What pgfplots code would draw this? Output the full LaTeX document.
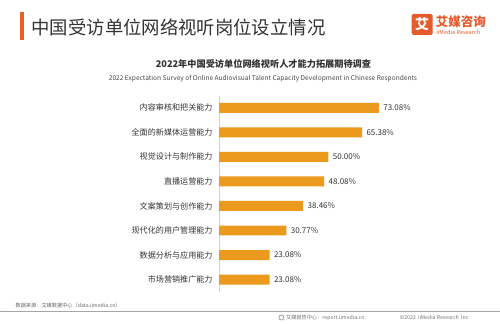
\documentclass[border=0pt]{standalone}
\usepackage{pgfplots}
\pgfplotsset{compat=1.18}
\usepackage{fontspec}
\setmainfont{Noto Sans CJK SC}
\definecolor{barc}{HTML}{EB9A1D}
\definecolor{logoc}{HTML}{E55B2C}
\definecolor{titc}{HTML}{333333}
\begin{document}
\begin{tikzpicture}
\path (0pt,0pt) rectangle (500pt,324pt);
% title
\fill[logoc!90!orange] (20pt,284pt) rectangle (23.5pt,312pt);
\node[anchor=west,font=\fontsize{18.4}{20}\selectfont,text=titc,inner sep=0] at (31pt,297pt) {中国受访单位网络视听岗位设立情况};
% logo
\fill[logoc,rounded corners=1.5pt] (412pt,289pt) rectangle (433pt,310pt);
\node[font=\fontsize{14}{14}\selectfont\bfseries,text=white,inner sep=0] at (422.5pt,299.5pt) {艾};
\node[anchor=west,font=\fontsize{12.5}{13}\selectfont\bfseries,text=logoc,inner sep=0] at (436pt,302.5pt) {艾媒咨询};
\node[anchor=west,font=\fontsize{5.6}{6}\selectfont,text=logoc,inner sep=0] at (436.5pt,292pt) {iiMedia Research};
% subtitles
\node[font=\fontsize{9.2}{10}\selectfont\bfseries,text=titc,inner sep=0] at (263.5pt,260pt) {2022年中国受访单位网络视听人才能力拓展期待调查};
\node[font=\fontsize{6.6}{7}\selectfont,text=titc!90,inner sep=0] at (263pt,245pt) {2022 Expectation Survey of Online Audiovisual Talent Capacity Development in Chinese Respondents};
% footer
\node[anchor=west,font=\fontsize{5.2}{6}\selectfont,text=black!60,inner sep=0] at (15pt,18pt) {数据来源：艾媒数据中心（data.iimedia.cn）};
\draw[black!35,line width=0.8pt] (0pt,12pt) -- (500pt,12pt);
\draw[black!55,line width=0.5pt] (281.5pt,6pt) circle (2.6pt);
\node[anchor=west,font=\fontsize{5.2}{6}\selectfont,text=black!55,inner sep=0] at (286pt,6pt) {艾媒报告中心：report.iimedia.cn};
\node[anchor=west,font=\fontsize{5.2}{6}\selectfont,text=black!55,inner sep=0] at (400pt,6pt) {©2023\ \ iiMedia Research\ \ Inc};
% chart
\begin{axis}[
  at={(219pt,31.7pt)}, anchor=south west,
  scale only axis, width=219pt, height=196.6pt,
  xbar, bar width=10pt,
  xmin=0, xmax=100,
  ymin=-0.5, ymax=7.5,
  ytick={0,...,7},
  yticklabels={市场营销推广能力,数据分析与应用能力,现代化的用户管理能力,文案策划与创作能力,直播运营能力,视觉设计与制作能力,全面的新媒体运营能力,内容审核和把关能力},
  yticklabel style={font=\fontsize{8.1}{9}\selectfont,text=titc,xshift=-3pt},
  major tick length=0pt,
  xtick=\empty,
  axis x line=none,
  axis y line*=left,
  y axis line style={black!18,line width=0.8pt,-},
  nodes near coords={\pgfmathprintnumber[fixed,fixed zerofill,precision=2,assume math mode=true]{\pgfplotspointmeta}\%},
  nodes near coords style={font=\fontsize{8}{9}\selectfont,text=titc,anchor=west,xshift=1pt},
  point meta=x,
  clip=false,
]
\addplot[fill=barc,draw=none] coordinates {
(73.08,7) (65.38,6) (50.00,5) (48.08,4) (38.46,3) (30.77,2) (23.08,1) (23.08,0)
};
\end{axis}
\end{tikzpicture}
\end{document}
